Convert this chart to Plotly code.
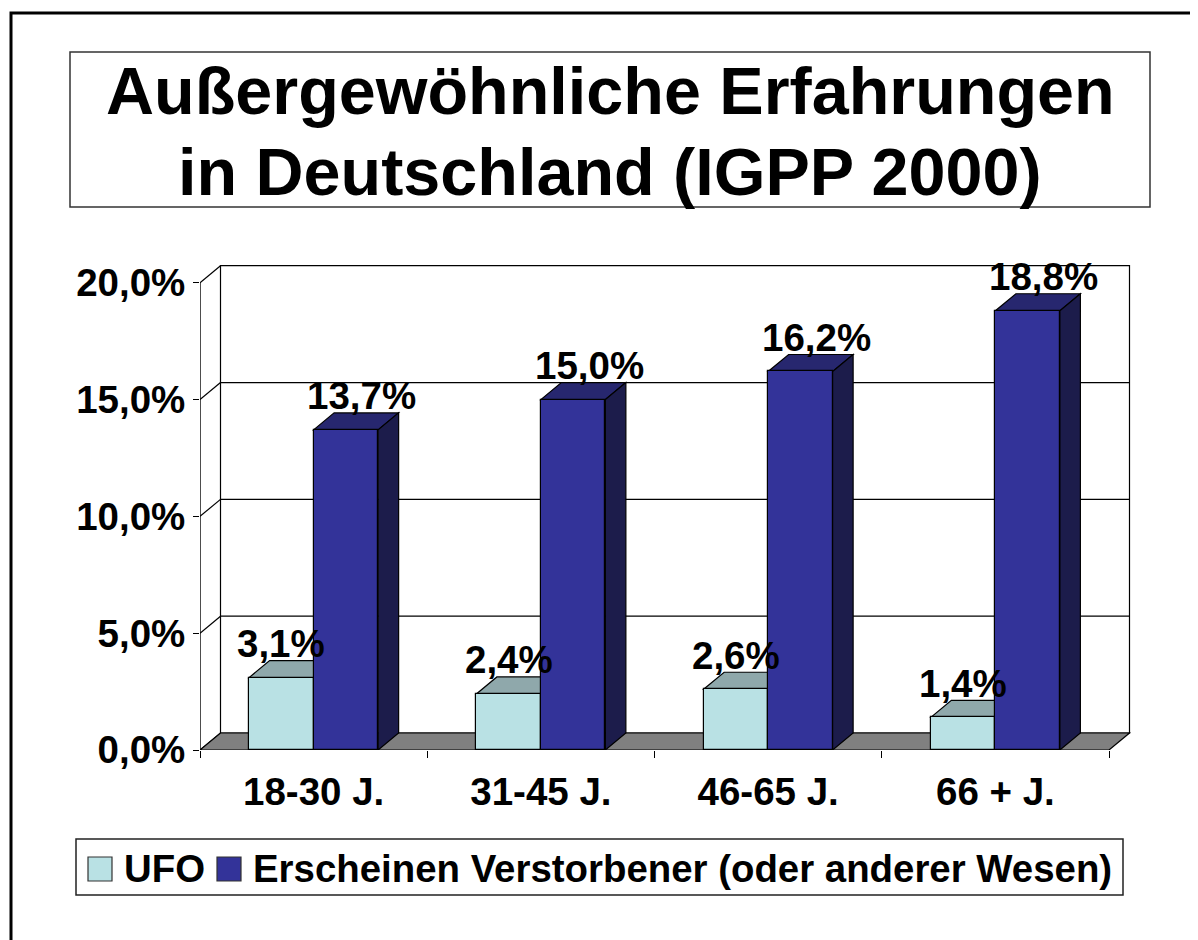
import plotly.graph_objects as go

# ---------------- data ----------------
categories = ["18-30 J.", "31-45 J.", "46-65 J.", "66 + J."]
series_names = ["UFO", "Erscheinen Verstorbener (oder anderer Wesen)"]
ufo_values = [3.1, 2.4, 2.6, 1.4]
deceased_values = [13.7, 15.0, 16.2, 18.8]
y_tick_values = [0, 5, 10, 15, 20]
y_tick_labels = ["0,0%", "5,0%", "10,0%", "15,0%", "20,0%"]
title_lines = ["Außergewöhnliche Erfahrungen", "in Deutschland (IGPP 2000)"]

# ---------------- styling / geometry ----------------
OFF = 8                       # page body margin in the browser
W, H = 1198 - OFF, 940 - OFF
PX_FRONT_LEFT, PX_RIGHT, PY_TOP, PY_ZERO = 200, 1140, 255, 750   # target page px
L = PX_FRONT_LEFT - OFF
R = W - (PX_RIGHT - OFF)
T = PY_TOP - OFF
B = H - (PY_ZERO - OFF)
UNIT = 227.25          # px per category
PYS = 23.365           # px per percent
DXP, DYP = 20.5, 17.0  # 3D depth offset in px
dx = DXP / UNIT
dy = DYP / PYS
bw = 64.5 / UNIT
ncat = len(categories)
x_max = (W - L - R) / UNIT
y_max = (H - T - B) / PYS

FONT = "Liberation Sans, Arial, sans-serif"
UFO_FRONT, UFO_TOP = "#B9E1E4", "#8FA8AB"
BL_FRONT, BL_TOP, BL_SIDE = "#333399", "#27276F", "#1C1C4B"
FLOOR = "#808080"
LINE = "#000000"


def px_to_paper_x(px):
    return (px - OFF - L) / (W - L - R)


def py_to_paper_y(py):
    return (H - B - (py - OFF)) / (H - T - B)


def poly(pts):
    return "M " + " L ".join(f"{x},{y}" for x, y in pts) + " Z"


shapes = []
# back wall
shapes.append(dict(type="path", xref="x", yref="y", layer="below",
                   path=poly([(dx, dy), (ncat + dx, dy), (ncat + dx, 20 + dy), (dx, 20 + dy)]),
                   fillcolor="white", line=dict(color=LINE, width=1.2)))
# gridlines on back wall and side wall
for k in y_tick_values:
    if 0 < k < 20:
        shapes.append(dict(type="line", xref="x", yref="y", layer="below",
                           x0=dx, x1=ncat + dx, y0=k + dy, y1=k + dy,
                           line=dict(color=LINE, width=1.2)))
    shapes.append(dict(type="line", xref="x", yref="y", layer="below",
                       x0=0, x1=dx, y0=k, y1=k + dy, line=dict(color=LINE, width=1.2)))
# front value axis line
shapes.append(dict(type="line", xref="x", yref="y", layer="below",
                   x0=0, x1=0, y0=0, y1=20, line=dict(color=LINE, width=1.4)))
# floor
shapes.append(dict(type="path", xref="x", yref="y", layer="below",
                   path=poly([(0, 0), (ncat, 0), (ncat + dx, dy), (dx, dy)]),
                   fillcolor=FLOOR, line=dict(color=LINE, width=1.2)))

# 3D faces of bars
for i in range(ncat):
    c = i + 0.5
    x0, x1, x2 = c - bw, c, c + bw
    u = ufo_values[i]
    shapes.append(dict(type="path", xref="x", yref="y", layer="below",
                       path=poly([(x0, u), (x1, u), (x1 + dx, u + dy), (x0 + dx, u + dy)]),
                       fillcolor=UFO_TOP, line=dict(color=LINE, width=1.2)))
    v = deceased_values[i]
    shapes.append(dict(type="path", xref="x", yref="y", layer="below",
                       path=poly([(x1, v), (x2, v), (x2 + dx, v + dy), (x1 + dx, v + dy)]),
                       fillcolor=BL_TOP, line=dict(color=LINE, width=1.2)))
    shapes.append(dict(type="path", xref="x", yref="y", layer="below",
                       path=poly([(x2, 0), (x2 + dx, dy), (x2 + dx, v + dy), (x2, v)]),
                       fillcolor=BL_SIDE, line=dict(color=LINE, width=1.2)))

# outer frame
shapes.append(dict(type="rect", xref="paper", yref="paper",
                   x0=px_to_paper_x(11), x1=px_to_paper_x(1260),
                   y0=py_to_paper_y(1000), y1=py_to_paper_y(13),
                   line=dict(color="black", width=3)))
# title box
shapes.append(dict(type="rect", xref="paper", yref="paper",
                   x0=px_to_paper_x(70), x1=px_to_paper_x(1150),
                   y0=py_to_paper_y(207), y1=py_to_paper_y(52),
                   line=dict(color="#333333", width=1.5)))
# legend box
shapes.append(dict(type="rect", xref="paper", yref="paper",
                   x0=px_to_paper_x(76), x1=px_to_paper_x(1123),
                   y0=py_to_paper_y(895), y1=py_to_paper_y(839),
                   line=dict(color="#222222", width=1.5)))
legend_items = [(series_names[0], UFO_FRONT, 88), (series_names[1], BL_FRONT, 217)]
for name, col, sx in legend_items:
    shapes.append(dict(type="rect", xref="paper", yref="paper",
                       x0=px_to_paper_x(sx), x1=px_to_paper_x(sx + 24),
                       y0=py_to_paper_y(881), y1=py_to_paper_y(857),
                       fillcolor=col, line=dict(color="#333333", width=1.2)))

LABEL_SIZE = 38.5
annotations = []
for i in range(ncat):
    c = i + 0.5
    annotations.append(dict(x=c - bw / 2, y=ufo_values[i] + dy, xref="x", yref="y",
                            text=f"{ufo_values[i]:.1f}%".replace(".", ","),
                            showarrow=False, yanchor="middle", xanchor="center", yshift=17,
                            font=dict(family=FONT, size=LABEL_SIZE, color="black", weight="bold")))
    annotations.append(dict(x=c + bw / 2, y=deceased_values[i] + dy, xref="x", yref="y",
                            text=f"{deceased_values[i]:.1f}%".replace(".", ","),
                            showarrow=False, yanchor="middle", xanchor="center", yshift=17,
                            xshift=16,
                            font=dict(family=FONT, size=LABEL_SIZE, color="black", weight="bold")))
# title
for line_text, cy in zip(title_lines, [91, 172]):
    annotations.append(dict(x=px_to_paper_x(610), y=py_to_paper_y(cy), xref="paper", yref="paper",
                            text=line_text, showarrow=False, xanchor="center", yanchor="middle",
                            font=dict(family=FONT, size=66.5, color="black", weight="bold")))
# legend text
for (name, col, sx) in legend_items:
    annotations.append(dict(x=px_to_paper_x(sx + 34), y=py_to_paper_y(868), xref="paper", yref="paper",
                            text=name, showarrow=False, xanchor="left", yanchor="middle",
                            font=dict(family=FONT, size=38.4, color="black", weight="bold")))

fig = go.Figure()
fig.add_trace(go.Bar(x=[i + 0.5 - bw / 2 for i in range(ncat)], y=ufo_values, width=bw,
                     name=series_names[0], marker=dict(color=UFO_FRONT, line=dict(color=LINE, width=1.2)),
                     hoverinfo="y"))
fig.add_trace(go.Bar(x=[i + 0.5 + bw / 2 for i in range(ncat)], y=deceased_values, width=bw,
                     name=series_names[1], marker=dict(color=BL_FRONT, line=dict(color=LINE, width=1.2)),
                     hoverinfo="y"))

fig.update_layout(
    width=W, height=H,
    margin=dict(l=L, r=R, t=T, b=B, pad=0),
    paper_bgcolor="white", plot_bgcolor="rgba(0,0,0,0)",
    barmode="overlay", bargap=0, showlegend=False,
    shapes=shapes, annotations=annotations,
    xaxis=dict(range=[0, x_max], showgrid=False, zeroline=False, showline=False,
               tickmode="array", tickvals=[i + 0.5 for i in range(ncat)], ticktext=categories,
               ticks="", ticklabelstandoff=15,
               tickfont=dict(family=FONT, size=LABEL_SIZE, color="black", weight="bold"),
               minor=dict(tickmode="array", tickvals=list(range(ncat + 1)), ticks="outside",
                          ticklen=7, tickcolor="black", tickwidth=1.2, showgrid=False),
               fixedrange=True),
    yaxis=dict(range=[0, y_max], showgrid=False, zeroline=False, showline=False,
               tickmode="array", tickvals=y_tick_values, ticktext=y_tick_labels,
               ticks="outside", ticklen=6, tickcolor="black", tickwidth=1.2,
               tickfont=dict(family=FONT, size=LABEL_SIZE, color="black", weight="bold"),
               fixedrange=True),
)

fig.write_html("out.html")
